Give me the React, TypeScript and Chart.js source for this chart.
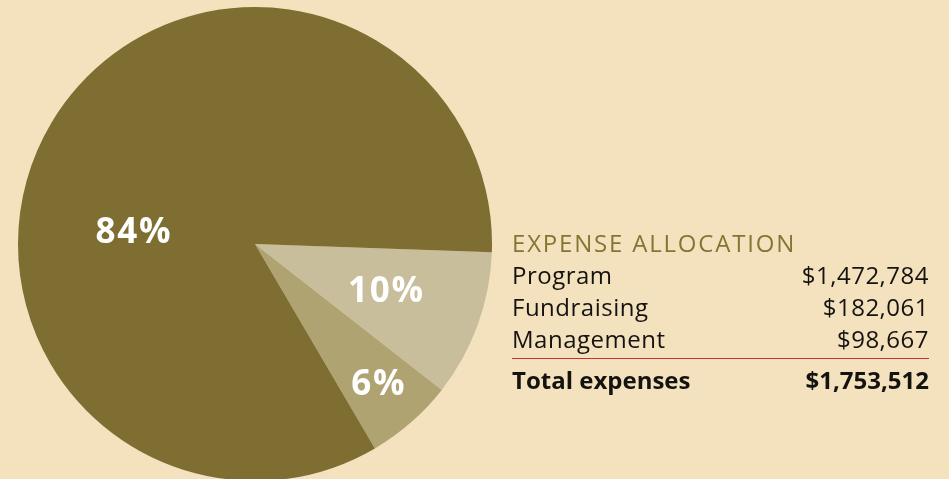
import React, { useEffect, useRef } from "react";
import { Chart, registerables } from "chart.js";

Chart.register(...registerables);

const sliceLabels = ["Fundraising", "Management", "Program"];
const slicePercents = [10, 6, 84];
const sliceColors = ["#C9BE9B", "#AFA372", "#7E6E32"];

const tableTitle = "EXPENSE ALLOCATION";
const tableRows = ["Program", "Fundraising", "Management"];
const tableValues = ["$1,472,784", "$182,061", "$98,667"];
const totalLabel = "Total expenses";
const totalValue = "$1,753,512";

const BG = "#F4E2BE";
const FONT = "'Open Sans', 'Noto Sans', sans-serif";

const labelPlugin = {
  id: "sliceLabels",
  afterDatasetsDraw(chart: any, _args: any, opts: any) {
    const ctx = chart.ctx;
    const meta = chart.getDatasetMeta(0);
    ctx.save();
    ctx.fillStyle = "#ffffff";
    ctx.font = `bold ${opts.size}px ${FONT}`;
    ctx.textAlign = "center";
    ctx.textBaseline = "middle";
    try { (ctx as any).letterSpacing = "1.8px"; } catch (e) {}
    meta.data.forEach((arc: any, i: number) => {
      const p = arc.getProps(["x", "y", "startAngle", "endAngle", "outerRadius"], true);
      const mid = (p.startAngle + p.endAngle) / 2 + (opts.angleOffsets[i] * Math.PI) / 180;
      const r = p.outerRadius * opts.radiusFractions[i];
      const text = chart.data.datasets[0].data[i] + "%";
      ctx.fillText(text, p.x + Math.cos(mid) * r, p.y + Math.sin(mid) * r);
    });
    ctx.restore();
  },
};

function PieChart() {
  const ref = useRef<HTMLCanvasElement | null>(null);
  useEffect(() => {
    if (!ref.current) return;
    const chart = new Chart(ref.current, {
      type: "pie",
      data: {
        labels: sliceLabels,
        datasets: [
          {
            data: slicePercents,
            backgroundColor: sliceColors,
            borderWidth: 0,
          },
        ],
      },
      options: {
        responsive: false,
        animation: false,
        events: [],
        rotation: 92,
        layout: { padding: { left: 18, top: 7, right: 457, bottom: 9 } },
        plugins: {
          legend: { display: false },
          tooltip: { enabled: false },
          sliceLabels: {
            size: 35,
            angleOffsets: [0, 0, -25.4],
            radiusFractions: [0.59, 0.793, 0.513],
          },
        } as any,
      },
      plugins: [labelPlugin],
    });
    return () => chart.destroy();
  }, []);
  return (
    <canvas
      ref={ref}
      width={949}
      height={490}
      style={{ position: "absolute", left: 0, top: 0, width: 949, height: 490 }}
    />
  );
}

export default function App() {
  const rowStyle: React.CSSProperties = {
    position: "absolute",
    left: 512,
    width: 417,
    display: "flex",
    justifyContent: "space-between",
    fontFamily: FONT,
    fontSize: 24,
    fontWeight: 500,
    lineHeight: "30px",
    color: "#151310",
    letterSpacing: 0.5,
    whiteSpace: "nowrap",
  };
  const tops = [260, 292, 324];
  return (
    <div
      style={{
        position: "fixed",
        left: 0,
        top: 0,
        width: 949,
        height: 479,
        overflow: "hidden",
        background: BG,
      }}
    >
      <PieChart />
      <div
        style={{
          position: "absolute",
          left: 512,
          top: 228,
          fontFamily: FONT,
          fontSize: 24,
          fontWeight: 500,
          lineHeight: "30px",
          color: "#857535",
          letterSpacing: 1.8,
          whiteSpace: "nowrap",
        }}
      >
        {tableTitle}
      </div>
      {tableRows.map((name, i) => (
        <div key={name} style={{ ...rowStyle, top: tops[i] }}>
          <span>{name}</span>
          <span>{tableValues[i]}</span>
        </div>
      ))}
      <div
        style={{
          position: "absolute",
          left: 512,
          top: 357.5,
          width: 417,
          height: 1.5,
          background: "#C8302A",
        }}
      />
      <div style={{ ...rowStyle, top: 365, fontWeight: 700, letterSpacing: 0 }}>
        <span>{totalLabel}</span>
        <span>{totalValue}</span>
      </div>
    </div>
  );
}
